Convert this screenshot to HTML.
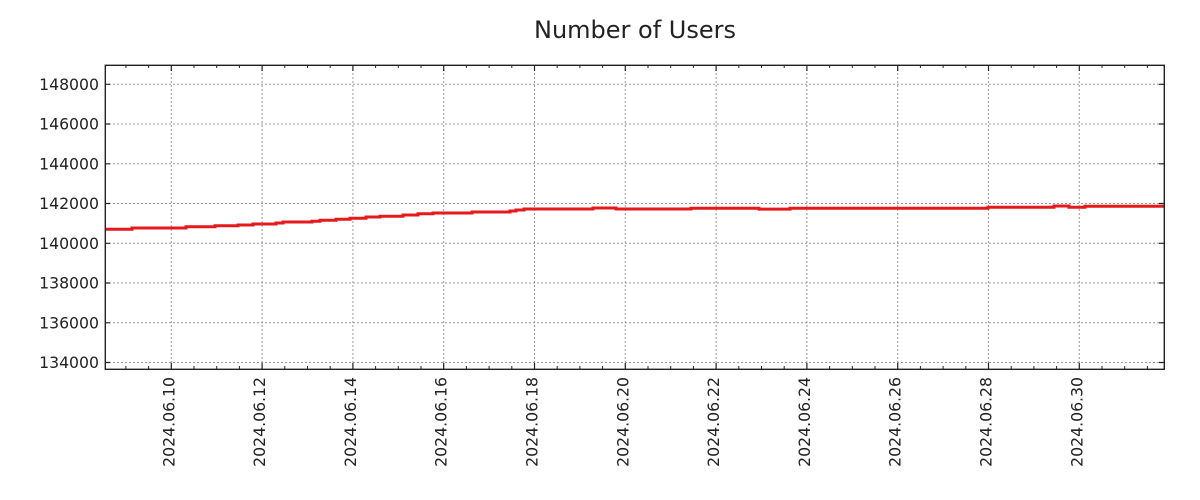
<!DOCTYPE html>
<html>
<head>
<meta charset="utf-8">
<style>
html,body{margin:0;padding:0;background:#fff;}
svg{display:block;}
text{font-family:"DejaVu Sans","Liberation Sans",sans-serif;fill:#222;}
</style>
</head>
<body>
<svg width="1200" height="500" viewBox="0 0 1200 500" xmlns="http://www.w3.org/2000/svg">
<rect x="0" y="0" width="1200" height="500" fill="#fff"/>
<text x="635" y="38" font-size="24" text-anchor="middle">Number of Users</text>

<!-- grid -->
<g stroke="#999" stroke-width="1" stroke-dasharray="2,2" fill="none">
  <line x1="105" y1="84.3" x2="1164" y2="84.3"/>
  <line x1="105" y1="124" x2="1164" y2="124"/>
  <line x1="105" y1="163.8" x2="1164" y2="163.8"/>
  <line x1="105" y1="203.5" x2="1164" y2="203.5"/>
  <line x1="105" y1="243.3" x2="1164" y2="243.3"/>
  <line x1="105" y1="283" x2="1164" y2="283"/>
  <line x1="105" y1="322.8" x2="1164" y2="322.8"/>
  <line x1="105" y1="362.5" x2="1164" y2="362.5"/>
  <line x1="171.3" y1="65" x2="171.3" y2="369"/>
  <line x1="262.1" y1="65" x2="262.1" y2="369"/>
  <line x1="352.9" y1="65" x2="352.9" y2="369"/>
  <line x1="443.7" y1="65" x2="443.7" y2="369"/>
  <line x1="534.5" y1="65" x2="534.5" y2="369"/>
  <line x1="625.3" y1="65" x2="625.3" y2="369"/>
  <line x1="716.1" y1="65" x2="716.1" y2="369"/>
  <line x1="806.9" y1="65" x2="806.9" y2="369"/>
  <line x1="897.7" y1="65" x2="897.7" y2="369"/>
  <line x1="988.5" y1="65" x2="988.5" y2="369"/>
  <line x1="1079.3" y1="65" x2="1079.3" y2="369"/>
</g>

<!-- series -->
<clipPath id="c"><rect x="105" y="65" width="1059" height="304"/></clipPath>
<path clip-path="url(#c)" fill="none" stroke="#e41a1c" stroke-width="3" stroke-linejoin="miter"
d="M104 229.3 H132 V228 H186 V226.7 H215 V225.7 H238 V225 H253 V224 H276 V223 H283 V222 H312 V221.3 H320 V220.3 H336 V219.3 H350 V218.3 H366 V217 H380 V216.2 H403 V215 H418 V213.8 H433 V213 H472 V212 H510 V211 H516 V210 H524 V209 H593 V208 H616 V209 H691 V208.2 H759 V209.1 H790 V208.2 H988 V207.2 H1054 V206 H1069 V207.2 H1085 V206.2 H1166"/>

<!-- ticks -->
<g stroke="#222" stroke-width="1.2">
  <path d="M105 84.3h5M105 124h5M105 163.8h5M105 203.5h5M105 243.3h5M105 283h5M105 322.8h5M105 362.5h5"/>
  <path d="M1164 84.3h-5M1164 124h-5M1164 163.8h-5M1164 203.5h-5M1164 243.3h-5M1164 283h-5M1164 322.8h-5M1164 362.5h-5"/>
  <path d="M171.3 369v-6M262.1 369v-6M352.9 369v-6M443.7 369v-6M534.5 369v-6M625.3 369v-6M716.1 369v-6M806.9 369v-6M897.7 369v-6M988.5 369v-6M1079.3 369v-6"/>
  <path d="M171.3 65v6M262.1 65v6M352.9 65v6M443.7 65v6M534.5 65v6M625.3 65v6M716.1 65v6M806.9 65v6M897.7 65v6M988.5 65v6M1079.3 65v6"/>
</g>
<g stroke="#222" stroke-width="1">
  <path d="M125.9 369v-3M148.6 369v-3M194 369v-3M216.7 369v-3M239.4 369v-3M284.8 369v-3M307.5 369v-3M330.2 369v-3M375.6 369v-3M398.3 369v-3M421 369v-3M466.4 369v-3M489.1 369v-3M511.8 369v-3M557.2 369v-3M579.9 369v-3M602.6 369v-3M648 369v-3M670.7 369v-3M693.4 369v-3M738.8 369v-3M761.5 369v-3M784.2 369v-3M829.6 369v-3M852.3 369v-3M875 369v-3M920.4 369v-3M943.1 369v-3M965.8 369v-3M1011.2 369v-3M1033.9 369v-3M1056.6 369v-3M1102 369v-3M1124.7 369v-3M1147.4 369v-3"/>
  <path d="M125.9 65v3M148.6 65v3M194 65v3M216.7 65v3M239.4 65v3M284.8 65v3M307.5 65v3M330.2 65v3M375.6 65v3M398.3 65v3M421 65v3M466.4 65v3M489.1 65v3M511.8 65v3M557.2 65v3M579.9 65v3M602.6 65v3M648 65v3M670.7 65v3M693.4 65v3M738.8 65v3M761.5 65v3M784.2 65v3M829.6 65v3M852.3 65v3M875 65v3M920.4 65v3M943.1 65v3M965.8 65v3M1011.2 65v3M1033.9 65v3M1056.6 65v3M1102 65v3M1124.7 65v3M1147.4 65v3"/>
</g>

<!-- frame -->
<rect x="105.3" y="65.3" width="1059" height="304" fill="none" stroke="#222" stroke-width="1.4"/>

<!-- y labels -->
<g font-size="15.7" text-anchor="end">
  <text x="99" y="89.9">148000</text>
  <text x="99" y="129.6">146000</text>
  <text x="99" y="169.4">144000</text>
  <text x="99" y="209.1">142000</text>
  <text x="99" y="248.9">140000</text>
  <text x="99" y="288.6">138000</text>
  <text x="99" y="328.4">136000</text>
  <text x="99" y="368.1">134000</text>
</g>

<!-- x labels -->
<g font-size="15.7" text-anchor="end">
  <text transform="translate(174.3,377) rotate(-90)">2024.06.10</text>
  <text transform="translate(265.1,377) rotate(-90)">2024.06.12</text>
  <text transform="translate(355.9,377) rotate(-90)">2024.06.14</text>
  <text transform="translate(446.7,377) rotate(-90)">2024.06.16</text>
  <text transform="translate(537.5,377) rotate(-90)">2024.06.18</text>
  <text transform="translate(628.3,377) rotate(-90)">2024.06.20</text>
  <text transform="translate(719.1,377) rotate(-90)">2024.06.22</text>
  <text transform="translate(809.9,377) rotate(-90)">2024.06.24</text>
  <text transform="translate(900.7,377) rotate(-90)">2024.06.26</text>
  <text transform="translate(991.5,377) rotate(-90)">2024.06.28</text>
  <text transform="translate(1082.3,377) rotate(-90)">2024.06.30</text>
</g>
</svg>
</body>
</html>
